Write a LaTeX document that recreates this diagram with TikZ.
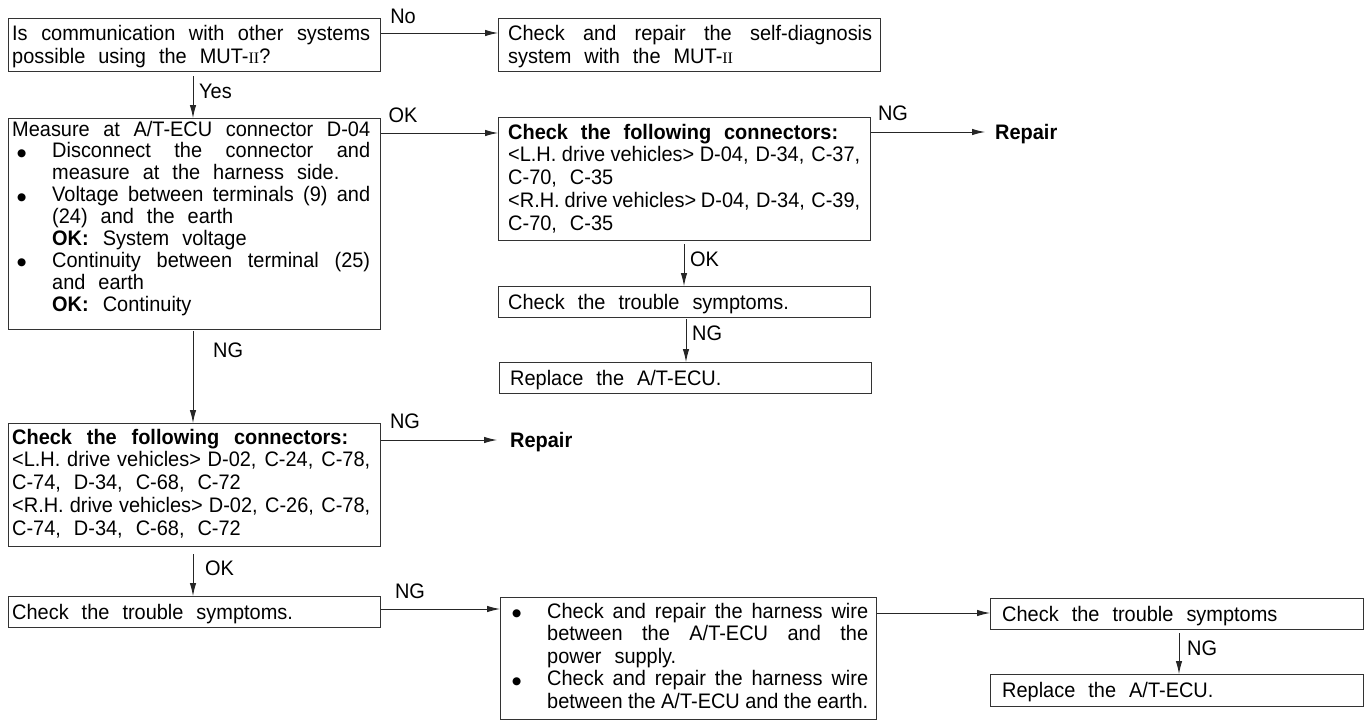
\documentclass[tikz,border=0pt]{standalone}
\usepackage{fontspec}
\setmainfont{Liberation Sans}[FakeStretch=0.95]
\newfontfamily\romfont{Liberation Serif}
\newfontfamily\symfont{DejaVu Sans}
\usetikzlibrary{arrows.meta,calc}

% roman-numeral suffix of the tester name
\newcommand{\MUT}{MUT-{\romfont\fontsize{16pt}{16pt}\selectfont II}}
% a line stretched to a given width (pt)
\newcommand{\J}[2]{\makebox[#1pt][s]{#2}}
% bullet item start and hanging indent
\newcommand{\bul}{\hspace*{5pt}\makebox[35pt][l]{\raisebox{1.5pt}{\symfont\fontsize{10.5pt}{10.5pt}\selectfont ●}}}
\newcommand{\ind}{\hspace*{40pt}}
% text block of a box (width, line pitch, lines), anchored at its first baseline
\newcommand{\boxtext}[3]{\begin{minipage}[t]{#1pt}\fontsize{21pt}{#2pt}\selectfont
  \spaceskip=0.62em plus 2em minus 0.62em\relax\xspaceskip=\spaceskip
  \parindent=0pt #3\end{minipage}}

\begin{document}
\begin{tikzpicture}[x=1pt,y=-1pt,
  box/.style={draw=black!80,line width=1pt,inner sep=0pt,anchor=north west},
  txt/.style={anchor=base west,inner sep=0pt},
  lbl/.style={inner sep=0pt,font=\fontsize{21pt}{23pt}\selectfont},
  endtxt/.style={anchor=base west,inner sep=0pt,font=\fontsize{21pt}{23pt}\selectfont\bfseries},
  arr/.style={draw=black!85,line width=0.9pt,-{Latex[length=13pt,width=6.5pt]}}]
\useasboundingbox[fill=white] (0,0) rectangle (1366,720);

% boxes
\node[box,minimum width=372pt,minimum height=53pt]  (b1)  at (8,18)    {};
\node[box,minimum width=382pt,minimum height=53pt]  (b2)  at (498,18)  {};
\node[box,minimum width=372pt,minimum height=211pt] (b3)  at (8,118)   {};
\node[box,minimum width=372pt,minimum height=123pt] (b4)  at (498,117) {};
\node[box,minimum width=372pt,minimum height=31pt]  (b5)  at (498,286) {};
\node[box,minimum width=372pt,minimum height=31pt]  (b6)  at (499,362) {};
\node[box,minimum width=372pt,minimum height=123pt] (b7)  at (8,423)   {};
\node[box,minimum width=372pt,minimum height=31pt]  (b8)  at (8,596)   {};
\node[box,minimum width=376pt,minimum height=122pt] (b9)  at (500,597) {};
\node[box,minimum width=373pt,minimum height=31pt]  (b10) at (990,598) {};
\node[box,minimum width=373pt,minimum height=32pt]  (b11) at (990,674) {};

% box texts
\node[txt] (t1) at (12,40) {\boxtext{358}{23}{\J{358}{Is communication with other systems}\\
possible using the \MUT?}};
\node[txt] (t2) at (508,40) {\boxtext{364}{23}{\J{364}{Check and repair the self-diagnosis}\\
system with the \MUT}};
\node[txt] (t3) at (12,136) {\boxtext{358}{21.9}{\J{358}{Measure at A/T-ECU connector D-04}\\
\bul\J{318}{Disconnect the connector and}\\
\ind measure at the harness side.\\
\bul\J{318}{Voltage between terminals (9) and}\\
\ind (24) and the earth\\
\ind\textbf{OK:}\hspace{14pt}System voltage\\
\bul\J{318}{Continuity between terminal (25)}\\
\ind and earth\\
\ind\textbf{OK:}\hspace{14pt}Continuity}};
\node[txt] (t4) at (508,139) {\boxtext{352}{22.75}{\J{330}{\bfseries Check the following connectors:}\\
\J{352}{<L.H. drive vehicles> D-04, D-34, C-37,}\\
C-70, C-35\\
\J{352}{<R.H. drive vehicles> D-04, D-34, C-39,}\\
C-70, C-35}};
\node[txt] (t5) at (508,309) {\boxtext{352}{22}{Check the trouble symptoms.}};
\node[txt] (t6) at (510,385) {\boxtext{352}{22}{Replace the A/T-ECU.}};
\node[txt] (t7) at (12,444) {\boxtext{358}{22.75}{\J{336}{\bfseries Check the following connectors:}\\
\J{358}{<L.H. drive vehicles> D-02, C-24, C-78,}\\
C-74, D-34, C-68, C-72\\
\J{358}{<R.H. drive vehicles> D-02, C-26, C-78,}\\
C-74, D-34, C-68, C-72}};
\node[txt] (t8) at (12,619) {\boxtext{358}{22}{Check the trouble symptoms.}};
\node[txt] (t9) at (507,618) {\boxtext{361}{22.5}{\bul\J{321}{Check and repair the harness wire}\\
\ind\J{321}{between the A/T-ECU and the}\\
\ind power supply.\\
\bul\J{321}{Check and repair the harness wire}\\
\ind\J{321}{between the A/T-ECU and the earth.}}};
\node[txt] (t10) at (1002,621) {\boxtext{350}{22}{Check the trouble symptoms}};
\node[txt] (t11) at (1002,697) {\boxtext{350}{22}{Replace the A/T-ECU.}};

% end texts
\node[endtxt] (rep1) at (995,139) {Repair};
\node[endtxt] (rep2) at (510,447) {Repair};

% connectors
\coordinate (p1) at ([yshift=-15pt]b1.north east);
\draw[arr] (p1) -- (p1 -| b2.west);
\coordinate (v1) at ($(b1.south west)+(185,4)$);
\draw[arr] (v1) -- (v1 |- b3.north);
\coordinate (p2) at ([yshift=-15pt]b3.north east);
\draw[arr] (p2) -- (p2 -| b4.west);
\coordinate (p3) at ([yshift=-15pt]b4.north east);
\draw[arr,shorten >=10pt] (p3) -- (p3 -| rep1.west);
\coordinate (v2) at ($(b4.south west)+(186,3)$);
\draw[arr] (v2) -- (v2 |- b5.north);
\coordinate (v3) at ($(b5.south west)+(188,1)$);
\draw[arr] (v3) -- (v3 |- b6.north);
\coordinate (v4) at ($(b3.south west)+(185,1)$);
\draw[arr] (v4) -- (v4 |- b7.north);
\coordinate (p4) at ([yshift=-17pt]b7.north east);
\draw[arr,shorten >=13pt] (p4) -- (p4 -| rep2.west);
\coordinate (v5) at ($(b7.south west)+(185,7)$);
\draw[arr] (v5) -- (v5 |- b8.north);
\coordinate (p5) at ([yshift=-13pt]b8.north east);
\draw[arr] (p5) -- (p5 -| b9.west);
\coordinate (p6) at ([yshift=-16pt]b9.north east);
\draw[arr] (p6) -- (p6 -| b10.west);
\coordinate (v6) at ($(b10.south west)+(189,3)$);
\draw[arr] (v6) -- (v6 |- b11.north);

% branch labels
\node[lbl] (lNo)  at (403,16)   {No};
\node[lbl,anchor=west] (lYes) at (199,91)  {Yes};
\node[lbl] (lOK1) at (403,115)  {OK};
\node[lbl] (lNG1) at (893,113)  {NG};
\node[lbl,anchor=west] (lOK2) at (690,259)  {OK};
\node[lbl,anchor=west] (lNG2) at (692,333)  {NG};
\node[lbl,anchor=west] (lNG3) at (213,350)  {NG};
\node[lbl] (lNG4) at (405,421)  {NG};
\node[lbl,anchor=west] (lOK3) at (205,568)  {OK};
\node[lbl] (lNG5) at (410,591)  {NG};
\node[lbl,anchor=west] (lNG6) at (1187,648) {NG};
\end{tikzpicture}
\end{document}
